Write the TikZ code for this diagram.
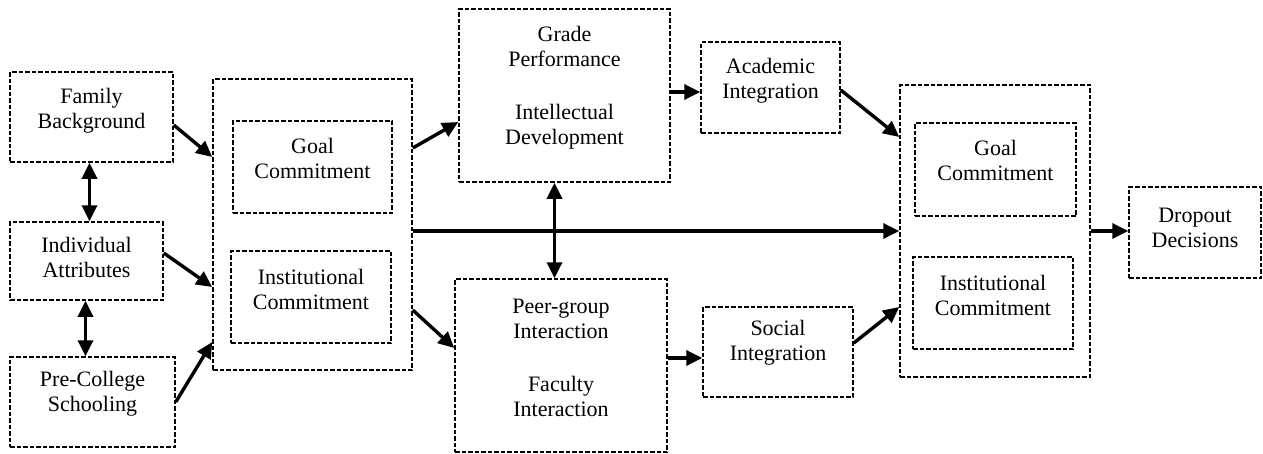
\documentclass[tikz,border=0pt]{standalone}
\usepackage{fontspec}
\setmainfont{Liberation Serif}
\usetikzlibrary{arrows.meta,fit}
\tikzset{
  dbox/.style={draw, line width=1.5pt, dash pattern=on 4.5pt off 2pt, inner sep=0pt, rectangle},
  txt/.style={align=center, font=\fontsize{22}{25}\selectfont, inner sep=0pt},
  arr/.style={line width=3.4pt, -{Triangle[length=16pt,width=15pt]}},
  darr/.style={line width=3.4pt, {Triangle[length=16pt,width=15pt]}-{Triangle[length=16pt,width=15pt]}},
}
\begin{document}
\begin{tikzpicture}[x=1pt,y=-1pt]
\useasboundingbox (0,0) rectangle (1263,453);
% boxes
\node[dbox, fit={(10,72) (173,162)}] (fam) {};
\node[dbox, fit={(10,222) (163,300)}] (ind) {};
\node[dbox, fit={(10,357) (175,447)}] (pre) {};
\node[dbox, fit={(213,79) (412,370)}] (big1) {};
\node[dbox, fit={(233,121) (392,213)}] (goal1) {};
\node[dbox, fit={(231,251) (391,343)}] (inst1) {};
\node[dbox, fit={(459,9) (670,182)}] (grade) {};
\node[dbox, fit={(701,42) (840,133)}] (acad) {};
\node[dbox, fit={(455,279) (667,452)}] (peer) {};
\node[dbox, fit={(703,307) (853,397)}] (soc) {};
\node[dbox, fit={(900,85) (1090,377)}] (big2) {};
\node[dbox, fit={(915,123) (1076,216)}] (goal2) {};
\node[dbox, fit={(913,257) (1073,349)}] (inst2) {};
\node[dbox, fit={(1129,187) (1261,278)}] (drop) {};
% texts
\node[txt] (tfam) at ([yshift=6pt]fam.center) {Family\\Background};
\node[txt] (tind) at ([yshift=4pt]ind.center) {Individual\\Attributes};
\node[txt] (tpre) at ([yshift=8pt]pre.center) {Pre-College\\Schooling};
\node[txt] (tgoal1) at ([yshift=9pt]goal1.center) {Goal\\Commitment};
\node[txt] (tinst1) at ([yshift=8pt]inst1.center) {Institutional\\Commitment};
\node[txt] (tgrade) at ([yshift=8pt]grade.center) {Grade\\Performance\\[28pt]Intellectual\\Development};
\node[txt] (tacad) at ([yshift=7pt]acad.center) {Academic\\Integration};
\node[txt] (tpeer) at ([yshift=8pt]peer.center) {Peer-group\\Interaction\\[28pt]Faculty\\Interaction};
\node[txt] (tsoc) at ([yshift=9pt]soc.center) {Social\\Integration};
\node[txt] (tgoal2) at ([yshift=9pt]goal2.center) {Goal\\Commitment};
\node[txt] (tinst2) at ([yshift=8pt]inst2.center) {Institutional\\Commitment};
\node[txt] (tdrop) at ([yshift=5pt]drop.center) {Dropout\\Decisions};
% connectors
\draw[arr] ([yshift=-8pt]fam.east) -- ([yshift=67.5pt]big1.west);
\draw[darr] ([xshift=-2pt]fam.south) -- ([xshift=-2pt]fam.south |- ind.north);
\draw[arr] ([yshift=8pt]ind.east) -- ([yshift=-62.5pt]big1.west);
\draw[darr] ([xshift=-1pt]ind.south) -- ([xshift=-1pt]ind.south |- pre.north);
\draw[arr] (pre.east) -- ([yshift=-117.5pt]big1.west);
\draw[arr] ([yshift=76.5pt]big1.east) -- ([yshift=-26.5pt]grade.west);
\draw[arr] ([yshift=-85.5pt]big1.east) -- ([yshift=17.5pt]peer.west);
\draw[arr] (big2.west -| big1.east) -- (big2.west);
\draw[darr] ([xshift=-10pt]grade.south) -- ([xshift=-10pt]grade.south |- peer.north);
\draw[arr] ([yshift=3.5pt]grade.east) -- ([yshift=3.5pt]grade.east -| acad.west);
\draw[arr] ([yshift=-2.5pt]acad.east) -- ([yshift=94pt]big2.west);
\draw[arr] ([yshift=7.5pt]peer.east) -- ([yshift=7.5pt]peer.east -| soc.west);
\draw[arr] ([yshift=9pt]soc.east) -- ([yshift=-76pt]big2.west);
\draw[arr] (big2.east) -- (big2.east -| drop.west);
\end{tikzpicture}
\end{document}
